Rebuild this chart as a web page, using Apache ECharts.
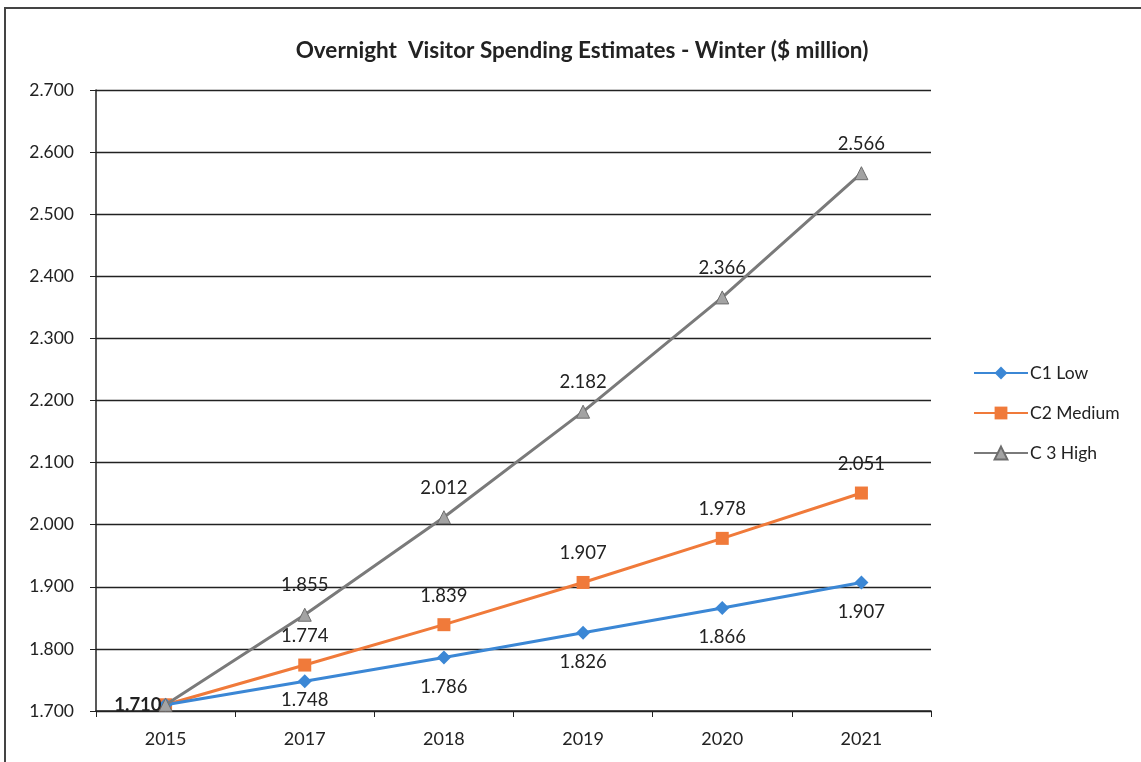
<!DOCTYPE html>
<html>
<head>
<meta charset="utf-8">
<script src="https://cdn.jsdelivr.net/npm/echarts@6/dist/echarts.min.js"></script>
<style>
  html, body { margin: 0; padding: 0; background: #fff; }
  #chart { width: 1141px; height: 762px; }
</style>
</head>
<body>
<div id="chart"></div>
<script>
// data
var years = ['2015', '2017', '2018', '2019', '2020', '2021']
var lowData = [1.710, 1.748, 1.786, 1.826, 1.866, 1.907]
var mediumData = [1.710, 1.774, 1.839, 1.907, 1.978, 2.051]
var highData = [1.710, 1.855, 2.012, 2.182, 2.366, 2.566]
var seriesNames = ['C1 Low', 'C2 Medium', 'C 3 High']

var FONT = 'Lato, "Open Sans", sans-serif'

function fmt (p) {
  return p.value.toFixed(3)
}

// the 2015 labels overlap in the original, only one (bold) is shown
function withLabels (arr, show2015) {
  return arr.map(function (v, i) {
    if (i === 0) {
      return show2015
        ? { value: v, label: { show: true, position: 'left', distance: -3, fontWeight: 'bold' } }
        : { value: v, label: { show: false } }
    }
    return v
  })
}

var low = withLabels(lowData, false)
// 1.748 sits closer to its point (squeezed by the axis)
low[1] = { value: lowData[1], label: { distance: 2 } }

var chart = echarts.init(document.getElementById('chart'))

var option = {
  backgroundColor: '#fff',
  animation: false,
  title: {
    text: 'Overnight  Visitor Spending Estimates - Winter ($ million)',
    left: 577,
    textAlign: 'center',
    top: 34,
    textStyle: {
      fontFamily: FONT,
      fontSize: 22.5,
      fontWeight: 'bold',
      color: '#222'
    }
  },
  legend: {
    orient: 'vertical',
    left: 968,
    top: 359,
    itemGap: 22,
    itemWidth: 54,
    itemHeight: 16,
    data: seriesNames,
    textStyle: { fontFamily: FONT, fontSize: 17.5, color: '#222', padding: [0, 0, 0, -3] }
  },
  grid: {
    left: 96,
    right: 210,
    top: 90,
    bottom: 51
  },
  xAxis: {
    type: 'category',
    data: years,
    boundaryGap: true,
    axisLine: { lineStyle: { color: '#222', width: 1.5 } },
    axisTick: { show: true, length: 6, inside: false, lineStyle: { color: '#222' } },
    axisLabel: { margin: 19, fontFamily: FONT, fontSize: 18, color: '#222' }
  },
  yAxis: {
    type: 'value',
    min: 1.7,
    max: 2.7,
    interval: 0.1,
    axisLine: { show: true, lineStyle: { color: '#222', width: 1.5 } },
    axisTick: { show: true, length: 6, lineStyle: { color: '#222' } },
    axisLabel: {
      margin: 22,
      fontFamily: FONT,
      fontSize: 17.5,
      color: '#222',
      formatter: function (v) { return v.toFixed(3) }
    },
    splitLine: { lineStyle: { color: '#222', width: 1.3 } }
  },
  graphic: [
    {
      type: 'polyline',
      shape: { points: [[5, 762], [5, 8], [1141, 8]] },
      style: { stroke: '#444', lineWidth: 2, fill: null }
    }
  ],
  series: [
    {
      name: seriesNames[0],
      type: 'line',
      data: low,
      symbol: 'diamond',
      symbolSize: 14,
      color: '#3b87d5',
      lineStyle: { width: 3, color: '#3b87d5' },
      itemStyle: { color: '#3b87d5' },
      label: {
        show: true,
        position: 'bottom',
        distance: 13,
        formatter: fmt,
        fontFamily: FONT,
        fontSize: 18.5,
        color: '#222'
      },
      z: 4
    },
    {
      name: seriesNames[1],
      type: 'line',
      data: withLabels(mediumData, false),
      symbol: 'rect',
      symbolSize: 13,
      color: '#f07a3a',
      lineStyle: { width: 3, color: '#f07a3a' },
      itemStyle: { color: '#f07a3a' },
      label: {
        show: true,
        position: 'top',
        distance: 13,
        formatter: fmt,
        fontFamily: FONT,
        fontSize: 18.5,
        color: '#222'
      },
      z: 3
    },
    {
      name: seriesNames[2],
      type: 'line',
      data: withLabels(highData, true),
      symbol: 'triangle',
      symbolSize: 13,
      color: '#9a9a9a',
      lineStyle: { width: 3, color: '#7a7a7a' },
      itemStyle: { color: '#a3a3a3', borderColor: '#6d6d6d', borderWidth: 1 },
      label: {
        show: true,
        position: 'top',
        distance: 13,
        formatter: fmt,
        fontFamily: FONT,
        fontSize: 18.5,
        color: '#222'
      },
      z: 5
    }
  ]
}

chart.setOption(option)
</script>
</body>
</html>
